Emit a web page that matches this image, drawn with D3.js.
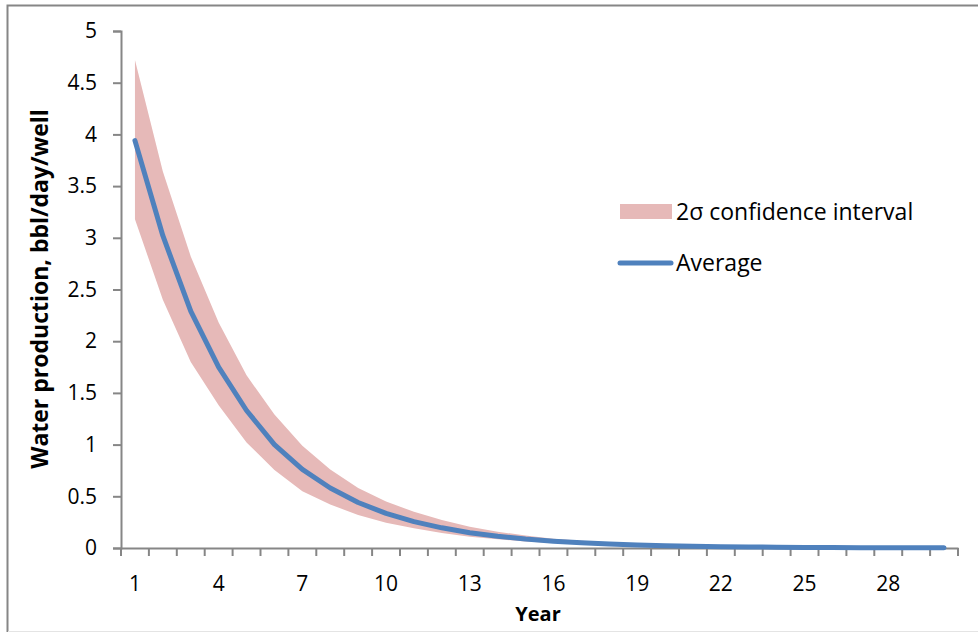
<!DOCTYPE html>
<html lang="en">
<head>
<meta charset="UTF-8"/>
<script src="https://d3js.org/d3.v7.min.js"></script>
<style>
  body { margin: 0; background: #fff; }
  text { font-family: "Open Sans", Lato, sans-serif; fill: #000; }
</style>
</head>
<body>
<script type="text/javascript">
// water production per well
var years = d3.range(1, 31);   // category labels 1..30
var average = [3.94, 3.02, 2.29, 1.75, 1.33, 1.0, 0.76, 0.58, 0.44, 0.335,
               0.255, 0.195, 0.148, 0.113, 0.086, 0.066, 0.05, 0.038, 0.029, 0.022,
               0.017, 0.013, 0.01, 0.0075, 0.0057, 0.0044, 0.0033, 0.0025, 0.0019, 0.0015];
var upper   = [4.72, 3.64, 2.82, 2.18, 1.67, 1.29, 0.99, 0.76, 0.58, 0.45,
               0.35, 0.27, 0.205, 0.158, 0.12, 0.09, 0.07, 0.053, 0.04, 0.03,
               0.023, 0.018, 0.013, 0.01, 0.0077, 0.0059, 0.0045, 0.0034, 0.0026, 0.002];
var lower   = [3.18, 2.40, 1.80, 1.38, 1.02, 0.755, 0.55, 0.42, 0.32, 0.245,
               0.19, 0.145, 0.11, 0.084, 0.064, 0.049, 0.037, 0.028, 0.021, 0.016,
               0.012, 0.0093, 0.007, 0.0053, 0.004, 0.003, 0.0023, 0.0017, 0.0013, 0.001];
var yTicks = [0, 0.5, 1, 1.5, 2, 2.5, 3, 3.5, 4, 4.5, 5];
var xLabels = [1, 4, 7, 10, 13, 16, 19, 22, 25, 28];

var w = 978, h = 632;
var plotLeft = 121, plotRight = 958, plotTop = 31, plotBottom = 548;

var dataset = years.map(function(y, i) {
    return { year: y, avg: average[i], hi: upper[i], lo: lower[i] };
});

var svg = d3.select("body").append("svg")
            .attr("width", w)
            .attr("height", h);

// chart frame (cropped at right)
svg.append("path")
   .attr("d", "M7.5,632 V5.5 H978")
   .attr("fill", "none")
   .attr("stroke", "#868686")
   .attr("stroke-width", 2);
svg.append("line")
   .attr("x1", 8).attr("x2", 978)
   .attr("y1", 631.5).attr("y2", 631.5)
   .attr("stroke", "#e4e4e4");

var xScale = d3.scaleBand()
               .domain(years)
               .range([plotLeft, plotRight]);

var yScale = d3.scaleLinear()
               .domain([0, 5])
               .range([plotBottom, plotTop]);

var cx = function(d) { return xScale(d.year) + xScale.bandwidth() / 2; };

// confidence band
var area = d3.area()
             .x(cx)
             .y0(function(d) { return yScale(d.lo); })
             .y1(function(d) { return yScale(d.hi); });

svg.append("path")
   .datum(dataset)
   .attr("d", area)
   .attr("fill", "#e6b9b8");

// y axis
var yAxis = d3.axisLeft(yScale)
              .tickValues(yTicks)
              .tickSize(8)
              .tickPadding(16)
              .tickFormat(d3.format("~g"));

var gy = svg.append("g")
   .attr("transform", "translate(" + plotLeft + ",0)")
   .call(yAxis);
gy.selectAll("text").style("font-size", "21px");

// x axis: ticks between categories, labels every third year
var xAxis = d3.axisBottom(xScale)
              .tickSize(0)
              .tickPadding(28)
              .tickFormat(function(d) { return xLabels.indexOf(d) >= 0 ? d : ""; });

var gx = svg.append("g")
   .attr("transform", "translate(0," + plotBottom + ")")
   .call(xAxis);
gx.selectAll("text").style("font-size", "21px");

gx.selectAll(".sep")
  .data(d3.range(0, years.length + 1))
  .enter()
  .append("line")
  .attr("x1", function(i) { return plotLeft + i * xScale.step(); })
  .attr("x2", function(i) { return plotLeft + i * xScale.step(); })
  .attr("y1", 0)
  .attr("y2", 8);

[gx, gy].forEach(function(g) {
    g.selectAll("path, line").attr("stroke", "#868686").attr("stroke-width", 2);
});

// average line drawn over the axis
var line = d3.line()
             .x(cx)
             .y(function(d) { return yScale(d.avg); });

svg.append("path")
   .datum(dataset)
   .attr("d", line)
   .attr("fill", "none")
   .attr("stroke", "#4f81bd")
   .attr("stroke-width", 5)
   .attr("stroke-linecap", "round")
   .attr("stroke-linejoin", "round");

// axis titles
svg.append("text")
   .attr("x", 538)
   .attr("y", 621)
   .attr("text-anchor", "middle")
   .style("font-size", "20px")
   .style("font-weight", "bold")
   .text("Year");

svg.append("text")
   .attr("transform", "translate(48,289) rotate(-90)")
   .attr("text-anchor", "middle")
   .style("font-size", "23px")
   .style("font-weight", "bold")
   .text("Water production, bbl/day/well");

// legend
var legend = svg.append("g");
legend.append("rect")
      .attr("x", 620).attr("y", 204)
      .attr("width", 52).attr("height", 15)
      .attr("fill", "#e6b9b8");
legend.append("text")
      .attr("x", 676).attr("y", 220)
      .style("font-size", "23px")
      .text("2\u03c3 confidence interval");
legend.append("line")
      .attr("x1", 620).attr("x2", 671)
      .attr("y1", 263).attr("y2", 263)
      .attr("stroke", "#4f81bd")
      .attr("stroke-width", 5)
      .attr("stroke-linecap", "round");
legend.append("text")
      .attr("x", 676).attr("y", 271)
      .style("font-size", "23px")
      .text("Average");
</script>
</body>
</html>
